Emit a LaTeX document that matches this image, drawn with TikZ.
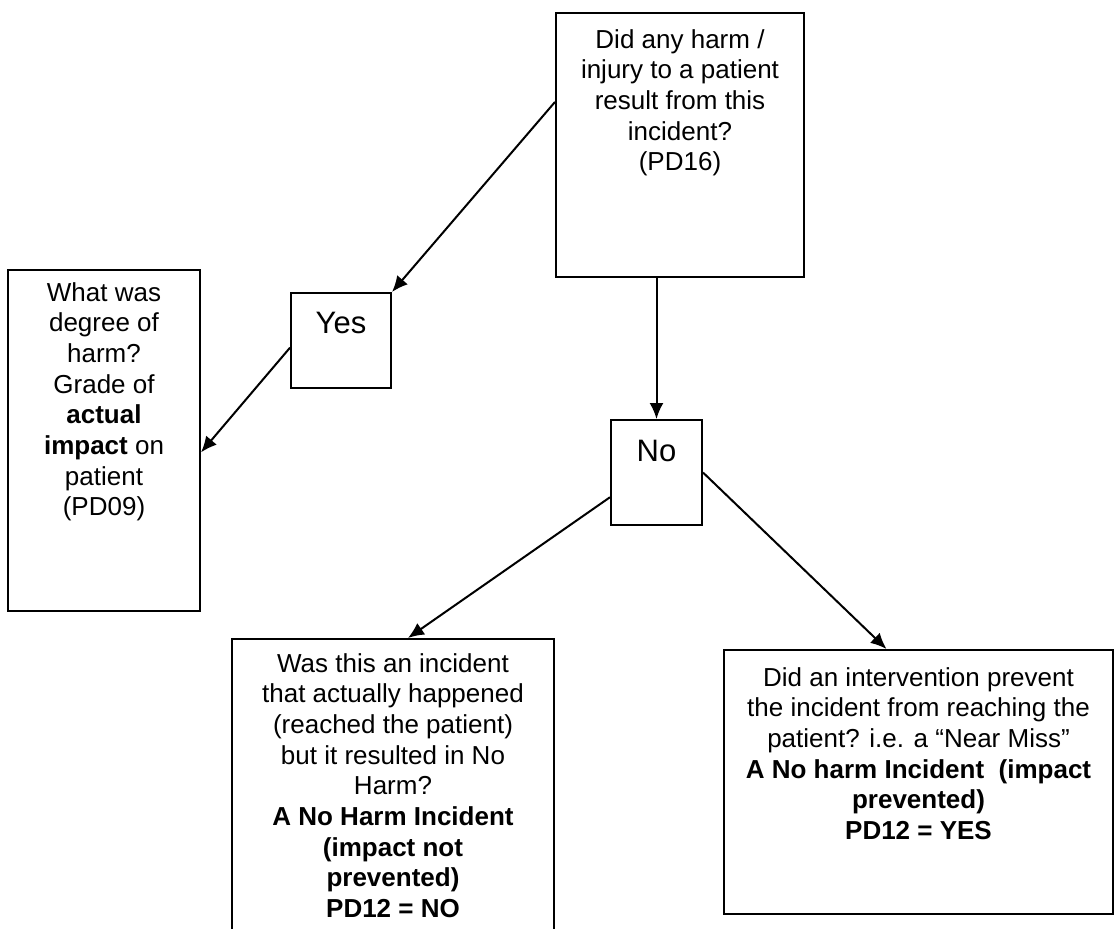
\documentclass[tikz,border=0pt]{standalone}
\usepackage{fontspec}
\setmainfont{Liberation Sans}
\usetikzlibrary{positioning,arrows.meta}

\begin{document}
\begin{tikzpicture}[x=1pt,y=-1pt]
\tikzstyle{box}=[rectangle, draw=black, line width=2pt, inner sep=0pt]
\tikzstyle{txt}=[align=center, inner sep=0pt, font=\fontsize{26}{30.7}\selectfont]
\tikzstyle{ans}=[inner sep=0pt, font=\fontsize{31}{36}\selectfont]
\tikzstyle{connect}=[-{Latex[length=16pt,width=14pt]}, line width=2pt]
  \useasboundingbox (0,0) rectangle (1114,929);
  \clip (0,0) rectangle (1114,929);
  \node[box, minimum width=248pt, minimum height=264pt] (q) at (680,145) {};
  \node[box, minimum width=100pt, minimum height=95pt] (yes) [below left=147pt and 163pt of q.west] {};
  \node[box, minimum width=91pt, minimum height=105pt] (no) [below=141pt of q.south, xshift=-23.5pt] {};
  \node[box, minimum width=192pt, minimum height=341pt] (grade) [left=89pt of yes.north west, anchor=north east, yshift=23pt] {};
  \node[box, minimum width=322pt, minimum height=320pt] (noharm) [below left=112pt and 55pt of no.south west] {};
  \node[box, minimum width=389pt, minimum height=264pt] (nearmiss) [below right=123pt and 20pt of no.south east] {};

  \node[txt] (qtext) [below=17pt of q.north] {Did any harm /\\injury to a patient\\result from this\\incident?\\(PD16)};
  \node[ans] (yestext) [below=20pt of yes.north] {Yes};
  \node[ans] (notext) [below=21pt of no.north] {No};
  \node[txt] (gradetext) [below=13pt of grade.north] {What was\\degree of\\harm?\\Grade of\\\textbf{actual}\\\textbf{impact} on\\patient\\(PD09)};
  \node[txt] (noharmtext) [below=15pt of noharm.north] {Was this an incident\\that actually happened\\(reached the patient)\\but it resulted in No\\Harm?\\\textbf{A No Harm Incident}\\\textbf{(impact not}\\\textbf{prevented)}\\\textbf{PD12 = NO}};
  \node[txt] (nearmisstext) [below=18pt of nearmiss.north] {Did an intervention prevent\\the incident from reaching the\\patient? i.e. a “Near Miss”\\\textbf{A No harm Incident\ \ (impact}\\\textbf{prevented)}\\\textbf{PD12 = YES}};

  \draw[connect] (q.161) -- (yes.north east);
  \draw[connect] (q.south -| no.north) -- (no.north);
  \draw[connect] (yes.188) -- (grade.-7);
  \draw[connect] (no.208) -- ([xshift=15pt]noharm.north);
  \draw[connect] (no.east) -- ([xshift=-32pt]nearmiss.north);
\end{tikzpicture}
\end{document}
